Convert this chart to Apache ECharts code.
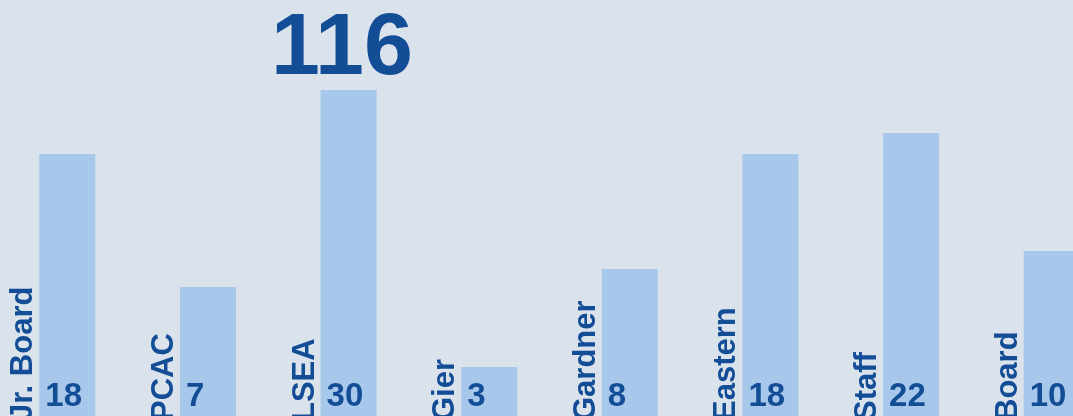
<!DOCTYPE html>
<html>
<head>
<meta charset="utf-8">
<script src="https://cdn.jsdelivr.net/npm/echarts@6/dist/echarts.min.js"></script>
<style>
html,body{margin:0;padding:0;background:#dae2ec;}
#chart{width:1073px;height:416px;}
</style>
</head>
<body>
<div id="chart"></div>
<script>
// Data
const categories = ['Jr. Board', 'PCAC', 'LSEA', 'Gier', 'Gardner', 'Eastern', 'Staff', 'Board'];
const counts = [18, 7, 30, 3, 8, 18, 22, 10];
// bar heights as drawn (not proportional to the counts in the original)
const barLevels = [262, 129, 326, 49, 147, 262, 283, 165];

const total = counts.reduce((a, b) => a + b, 0);

const DARK = '#124d96';
const BAR = '#a7c8ea';
const FONT = 'Liberation Sans, Arial, sans-serif';

const chart = echarts.init(document.getElementById('chart'), null, {renderer: 'canvas'});

const seriesData = categories.map((c, i) => [i, barLevels[i], counts[i], c]);

chart.setOption({
  backgroundColor: '#dae2ec',
  animation: false,
  grid: {left: -3, width: 1125, top: 0, bottom: 0, outerBoundsMode: 'none', containLabel: false},
  xAxis: {type: 'category', data: categories, show: false, boundaryGap: true},
  yAxis: {type: 'value', min: 0, max: 416, show: false},
  graphic: [{
    type: 'text',
    x: 271,
    y: 94,
    style: {
      text: String(total),
      font: 'bold 88px ' + FONT,
      fill: DARK,
      align: 'left',
      verticalAlign: 'bottom'
    }
  }],
  series: [{
    type: 'custom',
    clip: false,
    data: seriesData,
    encode: {x: 0, y: 1},
    renderItem: function (params, api) {
      const idx = api.value(0);
      const top = api.coord([idx, api.value(1)]);
      const base = api.coord([idx, 0]);
      const w = 56;
      const left = top[0] - w / 2;
      return {
        type: 'group',
        children: [
          {
            type: 'rect',
            shape: {x: left, y: top[1], width: w, height: base[1] - top[1]},
            style: {fill: BAR}
          },
          {
            type: 'text',
            x: left + 6,
            y: base[1] - 3,
            style: {
              text: String(api.value(2)),
              font: 'bold 33px ' + FONT,
              fill: DARK,
              align: 'left',
              verticalAlign: 'bottom'
            }
          },
          {
            type: 'text',
            x: left,
            y: base[1] + 5,
            rotation: Math.PI / 2,
            style: {
              text: categories[params.dataIndex],
              font: 'bold 31px ' + FONT,
              fill: DARK,
              align: 'left',
              verticalAlign: 'bottom'
            }
          }
        ]
      };
    }
  }]
});
</script>
</body>
</html>
